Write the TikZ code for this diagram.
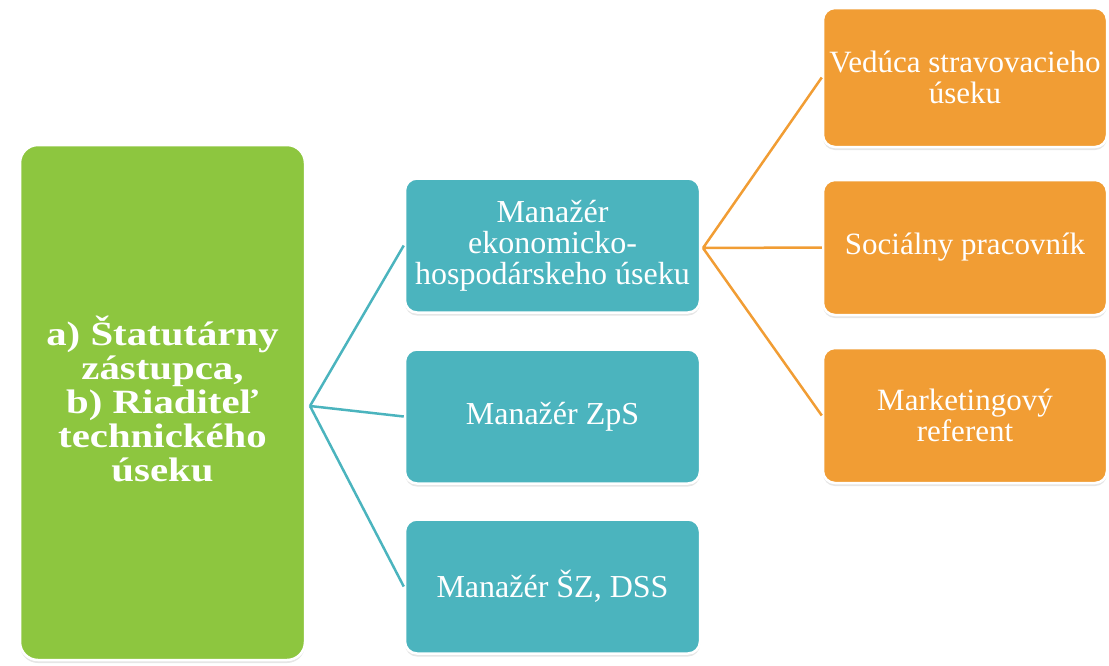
\documentclass[tikz,border=0pt]{standalone}
\usepackage{fontspec}
\setmainfont{Liberation Serif}
\newfontfamily\widefont{Liberation Serif}[FakeStretch=1.2]
\usetikzlibrary{shadows}
\definecolor{boxgreen}{RGB}{141,198,63}
\definecolor{boxteal}{RGB}{75,180,190}
\definecolor{boxorange}{RGB}{241,157,52}
\begin{document}
\begin{tikzpicture}[x=1pt,y=-1pt,
    box/.style={draw=white,line width=2.5pt,rounded corners=12pt,text=white,
      align=center,inner sep=0pt,
      drop shadow={opacity=0.2,shadow xshift=0pt,shadow yshift=-3pt}},
    tealbox/.style={box,fill=boxteal,minimum width=295pt,minimum height=134pt,
      font=\fontsize{32}{31}\selectfont},
    orangebox/.style={box,fill=boxorange,minimum width=284pt,minimum height=135pt,
      font=\fontsize{31}{31}\selectfont},
    link/.style={line width=2.5pt}]
    \useasboundingbox (0,0) rectangle (1109,665);
    % Top box
    \node[box,fill=boxgreen,rounded corners=18pt,minimum width=285pt,minimum height=515pt,
      font=\widefont\bfseries\fontsize{34}{34}\selectfont] (chief) at (162.5,402.5)
      {a) Štatutárny\\zástupca,\\b) Riaditeľ\\technického\\úseku\vphantom{g}};
    % Managers
    \node[tealbox] (econ) at (552.5,245.5) {Manažér\\ekonomicko-\\hospodárskeho úseku};
    \node[tealbox] (zps) at (552.5,416.5) {Manažér ZpS};
    \node[tealbox] (dss) at (552.5,586.5) {Manažér ŠZ, DSS};
    % Staff under the economic manager
    \node[orangebox,minimum height=139pt] (food) at (965,77.5) {Vedúca stravovacieho\\úseku};
    \node[orangebox] (social) at (965,247.5) {Sociálny pracovník};
    \node[orangebox] (market) at (965,415.5) {Marketingový\\referent};
    % Connectors
    \coordinate (hubA) at (310,406);
    \coordinate (hubB) at (703,248);
    \draw[link,boxteal] (hubA) -- (econ.west) (hubA) -- (zps.west) (hubA) -- (dss.west);
    \draw[link,boxorange] (hubB) -- (food.west) (hubB) -- (social.west) (hubB) -- (market.west);
\end{tikzpicture}
\end{document}
